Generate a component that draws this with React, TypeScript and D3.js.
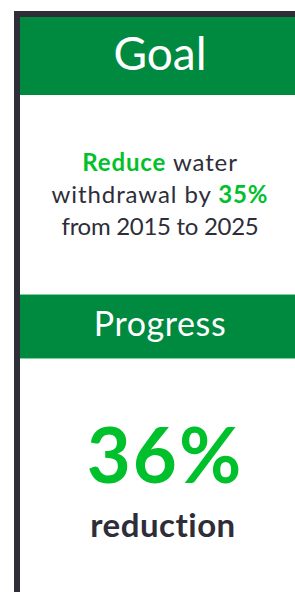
import React, { useEffect, useRef } from 'react';
import * as d3 from 'd3';

// panel titles and content
const sections: string[] = ['Goal', 'Progress'];
const goalVerb: string = 'Reduce';
const goalTarget: number[] = [35];
const goalYears: number[] = [2015, 2025];
const progressValue: number[] = [36];
const progressLabel: string[] = ['reduction'];

const App: React.FC = () => {
  const svgRef = useRef<SVGSVGElement | null>(null);

  useEffect(() => {
    const width = 295;
    const height = 592;
    const font = 'Lato, "Noto Sans", sans-serif';
    const dark = '#2e2e38';
    const headerGreen = '#008a40';
    const brightGreen = '#00c12b';
    const pct = d3.format('d');

    const svg = d3.select(svgRef.current)
      .attr('width', width)
      .attr('height', height);

    svg.selectAll('*').remove();

    // frame (top + left dark border)
    svg.append('rect').attr('x', 14).attr('y', 11).attr('width', width - 14).attr('height', 6).attr('fill', dark);
    svg.append('rect').attr('x', 14).attr('y', 11).attr('width', 6).attr('height', height - 11).attr('fill', dark);

    // header bands
    const bands = [
      { y: 17, h: 78, size: 46, base: 70, ls: 0 },
      { y: 294, h: 65, size: 34, base: 336, ls: 0.6 },
    ];
    const cx = 160;

    bands.forEach((b, i) => {
      svg.append('rect')
        .attr('x', 20).attr('y', b.y)
        .attr('width', width - 20).attr('height', b.h)
        .attr('fill', headerGreen);
      if (i === 1) {
        svg.append('rect').attr('x', 20).attr('y', b.y).attr('width', width - 20).attr('height', 1).attr('fill', '#7fd0a0');
        svg.append('rect').attr('x', 20).attr('y', b.y + b.h - 1).attr('width', width - 20).attr('height', 1).attr('fill', '#7fd0a0');
      }
      svg.append('text')
        .attr('x', cx).attr('y', b.base)
        .attr('text-anchor', 'middle')
        .attr('font-family', font)
        .attr('font-size', b.size)
        .attr('letter-spacing', b.ls)
        .attr('fill', '#fff')
        .text(sections[i]);
    });

    // goal text
    const lines = svg.append('g')
      .attr('font-family', font)
      .attr('font-size', 24)
      .attr('letter-spacing', 0.9)
      .attr('fill', dark)
      .attr('text-anchor', 'middle');

    const l1 = lines.append('text').attr('x', cx).attr('y', 171);
    l1.append('tspan').attr('font-weight', 'bold').attr('fill', brightGreen).text(goalVerb);
    l1.append('tspan').text(' water');

    const l2 = lines.append('text').attr('x', cx).attr('y', 203);
    l2.append('tspan').text('withdrawal by ');
    l2.append('tspan').attr('font-weight', 'bold').attr('fill', brightGreen).text(`${pct(goalTarget[0])}%`);

    lines.append('text').attr('x', cx).attr('y', 235)
      .attr('letter-spacing', -0.3)
      .text(`from ${goalYears[0]} to ${goalYears[1]}`);

    // progress figure
    svg.append('text')
      .attr('x', 165).attr('y', 483)
      .attr('text-anchor', 'middle')
      .attr('font-family', font)
      .attr('font-weight', 'bold')
      .attr('font-size', 76)
      .attr('letter-spacing', 2)
      .attr('fill', brightGreen)
      .text(`${pct(progressValue[0])}%`);

    svg.append('text')
      .attr('x', 163).attr('y', 537)
      .attr('text-anchor', 'middle')
      .attr('font-family', font)
      .attr('font-weight', 'bold')
      .attr('font-size', 33)
      .attr('letter-spacing', 0.5)
      .attr('fill', dark)
      .text(progressLabel[0]);
  }, []);

  return (
    <svg ref={svgRef} style={{ position: 'absolute', left: 0, top: 0, background: '#fff' }}></svg>
  );
};

export default App;
